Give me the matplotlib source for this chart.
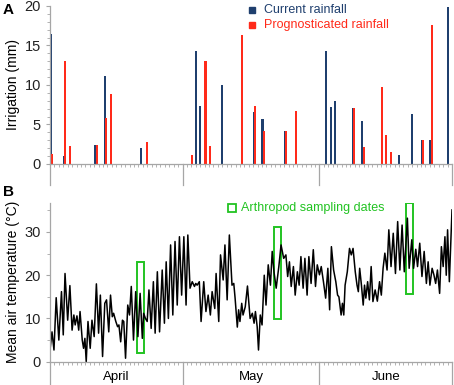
import numpy as np
import matplotlib
matplotlib.use("Agg")
import matplotlib.pyplot as plt
from matplotlib.patches import Rectangle
from matplotlib.lines import Line2D
from matplotlib.ticker import MultipleLocator

plt.rcParams['font.family'] = ['Liberation Sans', 'DejaVu Sans']

# panel A: irrigation bars (day counted from 1 April)
cur_day = [0.15, 3.2, 10.3, 12.4, 20.6, 33.0, 33.9, 39.0, 46.2, 48.1, 53.3,
           62.5, 63.6, 64.6, 68.7, 70.7, 79.0, 82.0, 84.1, 86.1, 90.2]
cur_mm = [16.4, 1.0, 2.4, 11.2, 2.0, 14.3, 7.3, 10.0, 6.6, 5.65, 4.2,
          14.3, 7.25, 8.0, 7.05, 5.45, 1.2, 6.3, 3.0, 3.0, 19.9]
prog_day = [0.45, 3.5, 4.5, 10.55, 12.7, 13.7, 21.9, 32.1, 35.2, 36.3, 43.4,
            46.5, 48.5, 53.5, 55.7, 68.9, 71.0, 75.1, 76.1, 77.1, 84.35, 86.5]
prog_mm = [1.27, 13.1, 2.3, 2.4, 5.86, 8.8, 2.8, 1.2, 13.1, 2.3, 16.3,
           7.4, 4.2, 4.2, 6.7, 7.1, 2.1, 9.75, 3.7, 1.5, 3.0, 17.6]

# panel B: mean air temperature
t_day = [0.0, 0.45, 0.9, 1.4, 2.0, 2.6, 3.0, 3.4, 4.0, 4.5, 5.0, 5.4, 5.7, 6.1, 6.5, 6.8,
         7.3, 7.6, 7.9, 8.2, 8.6, 9.1, 9.5, 10.0, 10.5, 11.0, 11.4, 11.9, 12.4, 12.8, 13.3,
         13.7, 14.1, 14.4, 14.9, 15.3, 15.6, 16.0, 16.4, 16.7, 17.1, 17.6, 18.0, 18.4, 18.9,
         19.4, 19.9, 20.4, 20.9, 21.2, 21.6, 22.0, 22.4, 22.9, 23.4, 23.8, 24.3, 24.8, 25.4,
         25.9, 26.3, 26.8, 27.3, 27.8, 28.3, 28.8, 29.3, 29.8, 30.3, 30.8, 31.2, 31.7, 32.2,
         32.7, 33.0, 33.3, 33.8, 34.2, 34.8, 35.3, 35.8, 36.3, 36.7, 37.3, 37.6, 38.2, 38.6,
         39.2, 39.6, 40.1, 40.6, 41.2, 41.6, 41.9, 42.4, 42.7, 43.0, 43.4, 43.7, 44.2, 44.7,
         45.3, 45.8, 46.2, 46.5, 46.9, 47.2, 47.6, 48.0, 48.5, 48.9, 49.4, 49.9, 50.3, 50.7,
         51.2, 51.8, 52.3, 52.9, 53.4, 53.8, 54.2, 54.6, 55.1, 55.5, 56.0, 56.4, 56.8, 57.3,
         57.7, 58.2, 58.6, 59.1, 59.6, 60.1, 60.5, 61.0, 61.4, 61.9, 62.4, 62.9, 63.3, 63.7,
         64.2, 64.7, 65.1, 65.4, 65.9, 66.2, 66.5, 66.8, 67.3, 67.8, 68.2, 68.6, 69.1, 69.5,
         69.8, 70.1, 70.5, 70.9, 71.2, 71.5, 71.9, 72.3, 72.7, 73.1, 73.6, 74.1, 74.6, 75.0,
         75.4, 75.8, 76.3, 76.7, 77.2, 77.7, 78.2, 78.7, 79.2, 79.7, 80.2, 80.9, 81.3, 81.9,
         82.3, 82.8, 83.2, 83.7, 84.2, 84.7, 85.2, 85.6, 86.0, 86.5, 86.9, 87.3, 87.7, 88.2,
         88.6, 89.0, 89.4, 89.7, 90.0, 90.4, 91.0]
t_val = [2.7, 6.9, 2.7, 14.8, 5.0, 16.2, 6.2, 20.4, 9.6, 17.6, 7.3, 10.8, 8.5, 10.6, 7.3, 11.6,
         5.0, 3.1, 5.4, 0.0, 9.3, 3.1, 9.6, 5.8, 18.0, 6.6, 15.4, 1.2, 13.5, 14.3, 6.9,
         15.4, 10.4, 11.2, 9.3, 8.1, 8.5, 4.6, 9.6, 9.3, 0.8, 13.1, 10.8, 17.4, 5.0,
         16.2, 5.8, 15.8, 5.4, 11.2, 10.0, 9.3, 16.6, 7.7, 18.5, 6.6, 20.8, 6.9, 21.2,
         8.9, 23.1, 10.0, 27.0, 10.8, 27.8, 13.1, 28.9, 15.4, 28.9, 13.1, 29.3, 17.0, 18.5,
         17.4, 18.1, 17.7, 18.5, 9.3, 18.5, 11.6, 15.4, 10.8, 16.2, 12.3, 20.4, 9.3, 24.7,
         18.9, 27.0, 14.3, 29.3, 17.7, 18.1, 14.7, 8.0, 12.0, 9.3, 13.5, 10.8, 12.7, 17.5,
         10.0, 11.2, 8.9, 11.6, 8.1, 2.7, 10.8, 8.5, 20.0, 13.1, 22.4, 17.7, 25.5, 20.8,
         17.0, 22.0, 27.0, 23.9, 24.7, 19.7, 23.1, 17.4, 22.0, 15.4, 20.8, 17.7, 24.3, 17.0,
         23.9, 15.4, 24.3, 18.1, 25.9, 17.4, 22.4, 20.1, 22.0, 18.5, 14.7, 21.6, 12.0, 26.6,
         21.2, 18.5, 15.4, 15.0, 10.8, 13.5, 10.8, 17.7, 20.8, 26.2, 24.7, 26.2, 20.8, 17.7,
         16.2, 21.6, 17.7, 13.1, 17.7, 14.7, 18.5, 14.3, 22.0, 13.9, 16.6, 14.0, 18.5, 15.4,
         21.6, 25.1, 21.2, 30.5, 22.0, 29.7, 20.4, 32.4, 21.2, 31.6, 20.8, 33.2, 21.6, 28.2,
         21.6, 26.0, 22.0, 27.4, 19.7, 25.5, 18.1, 23.1, 17.7, 21.6, 20.1, 18.1, 21.2, 15.8,
         26.6, 22.0, 28.9, 20.0, 30.5, 18.5, 35.1]

sample_day = [20.55, 51.45, 81.35]
sample_mid = [12.5, 20.5, 26.2]

month_names = ["April", "May", "June"]
month_edges = [0, 30, 61, 91]

blue = "#1f3f6e"
red = "#ff2a1a"
green = "#22c322"
grey = "#a6a6a6"

fig = plt.figure(figsize=(4.54, 3.85), dpi=100)
W, H = 454, 385

def box(l, t, r, b):
    return [l / W, 1 - b / H, (r - l) / W, (b - t) / H]

axA = fig.add_axes(box(50, 6, 452, 164))
axB = fig.add_axes(box(50, 203, 452, 361.7))

for ax in (axA, axB):
    for s in ("top", "right"):
        ax.spines[s].set_visible(False)
    for s in ("left", "bottom"):
        ax.spines[s].set_color(grey)
        ax.spines[s].set_linewidth(0.9)
    ax.set_xlim(0, 91)
    ax.set_xticks([])
    ax.xaxis.set_minor_locator(MultipleLocator(1))
    ax.tick_params(axis="x", which="minor", length=2.5, width=0.6, color=grey)
    ax.tick_params(axis="y", which="both", color=grey, labelsize=10.5, labelcolor="#222222")
    ax.tick_params(axis="y", which="major", length=3, width=0.8)
    ax.tick_params(axis="y", which="minor", length=2, width=0.6)

# panel A
axA.bar(cur_day, cur_mm, width=0.46, color=blue, linewidth=0)
axA.bar(prog_day, prog_mm, width=0.46, color=red, linewidth=0)
axA.set_ylim(0, 20)
axA.set_yticks([0, 5, 10, 15, 20])
axA.yaxis.set_minor_locator(MultipleLocator(1))
axA.set_ylabel("Irrigation (mm)", fontsize=10, labelpad=3)
ext = -(185 - 164) / (164 - 6)
axA.plot([0, 0], [0, ext], transform=axA.get_xaxis_transform(), color=grey, lw=0.9, clip_on=False)
for m in month_edges[1:]:
    axA.plot([m, m], [0, ext], transform=axA.get_xaxis_transform(), color=grey, lw=0.9, clip_on=False)

# panel B
axB.plot(t_day, t_val, color="black", lw=1.1)
for d, c in zip(sample_day, sample_mid):
    axB.add_patch(Rectangle((d - 0.75, c - 10.6), 1.5, 21.2, fill=False,
                            edgecolor=green, lw=1.4))
axB.set_ylim(0, 36.7)
axB.set_yticks([0, 10, 20, 30])
axB.yaxis.set_minor_locator(MultipleLocator(5))
axB.set_ylabel("Mean air temperature (°C)", fontsize=10, labelpad=3)
extB = -(385 - 361.7) / (361.7 - 203)
axB.plot([0, 0], [0, extB], transform=axB.get_xaxis_transform(), color=grey, lw=0.9, clip_on=False)
for m in month_edges[1:]:
    axB.plot([m, m], [0, extB], transform=axB.get_xaxis_transform(), color=grey, lw=0.9, clip_on=False)
for i, name in enumerate(month_names):
    axB.text((month_edges[i] + month_edges[i + 1]) / 2, -0.096, name,
             transform=axB.get_xaxis_transform(), ha="center", va="center", fontsize=9.5)

# legends
for y, col, lab in [(10, blue, "Current rainfall"), (25, red, "Prognosticated rainfall")]:
    fig.add_artist(Line2D([252 / W], [1 - y / H], marker="s", markersize=5, color=col,
                          linestyle="none", transform=fig.transFigure))
    fig.text(264 / W, 1 - y / H, lab, color=col, fontsize=9, va="center")
fig.add_artist(Line2D([232 / W], [1 - 207.5 / H], marker="s", markersize=5.5,
                      markerfacecolor="none", markeredgecolor=green, markeredgewidth=1.3,
                      linestyle="none", transform=fig.transFigure))
fig.text(241 / W, 1 - 208 / H, "Arthropod sampling dates", color=green, fontsize=9, va="center")

fig.text(3 / W, 1 - 10 / H, "A", fontsize=11, fontweight="bold", va="center")
fig.text(3 / W, 1 - 192 / H, "B", fontsize=11, fontweight="bold", va="center")

fig.savefig("out.png", dpi=100)
